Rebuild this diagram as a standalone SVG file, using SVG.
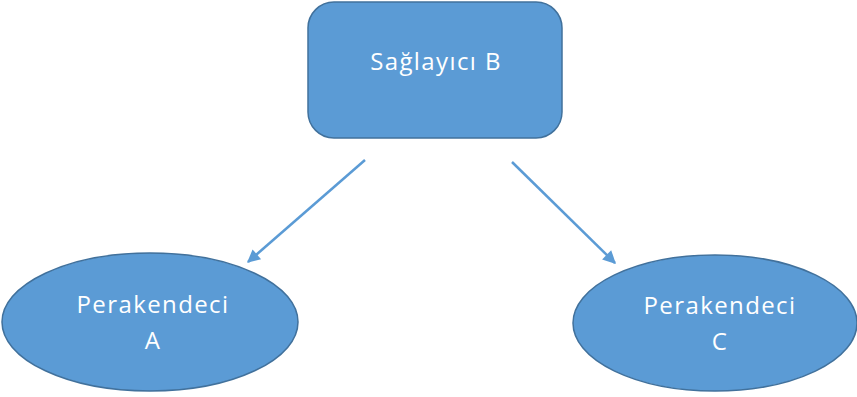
<svg xmlns="http://www.w3.org/2000/svg" width="857" height="397" viewBox="0 0 857 397">
  <style>
    .shape { fill: #5b9bd5; stroke: #41719c; stroke-width: 1.5; }
    .label { font-family: "Open Sans", "Noto Sans", sans-serif; font-size: 24px; letter-spacing: 1.4px; fill: #ffffff; text-anchor: middle; }
    .link { stroke: #5b9bd5; stroke-width: 2.5; fill: none; marker-end: url(#head); }
  </style>
  <defs>
    <marker id="head" viewBox="0 0 10 10" refX="9" refY="5" markerWidth="6" markerHeight="5.2" orient="auto" markerUnits="strokeWidth">
      <path d="M0,0 L10,5 L0,10 z" fill="#5b9bd5"/>
    </marker>
  </defs>
  <rect width="857" height="397" fill="#ffffff"/>

  <g id="connectors">
    <line class="link" x1="365" y1="160" x2="248" y2="262"/>
    <line class="link" x1="512" y1="162" x2="615" y2="263"/>
  </g>

  <g id="saglayici-b">
    <rect class="shape" x="308" y="2" width="254" height="136" rx="26" ry="26"/>
    <text class="label" x="436" y="70">Sağlayıcı B</text>
  </g>

  <g id="perakendeci-a">
    <ellipse class="shape" cx="150" cy="322" rx="148" ry="69"/>
    <text class="label" x="153" y="313">Perakendeci</text>
    <text class="label" x="153" y="349">A</text>
  </g>

  <g id="perakendeci-c">
    <ellipse class="shape" cx="715" cy="323" rx="142" ry="68"/>
    <text class="label" x="720" y="314">Perakendeci</text>
    <text class="label" x="720" y="350">C</text>
  </g>
</svg>
